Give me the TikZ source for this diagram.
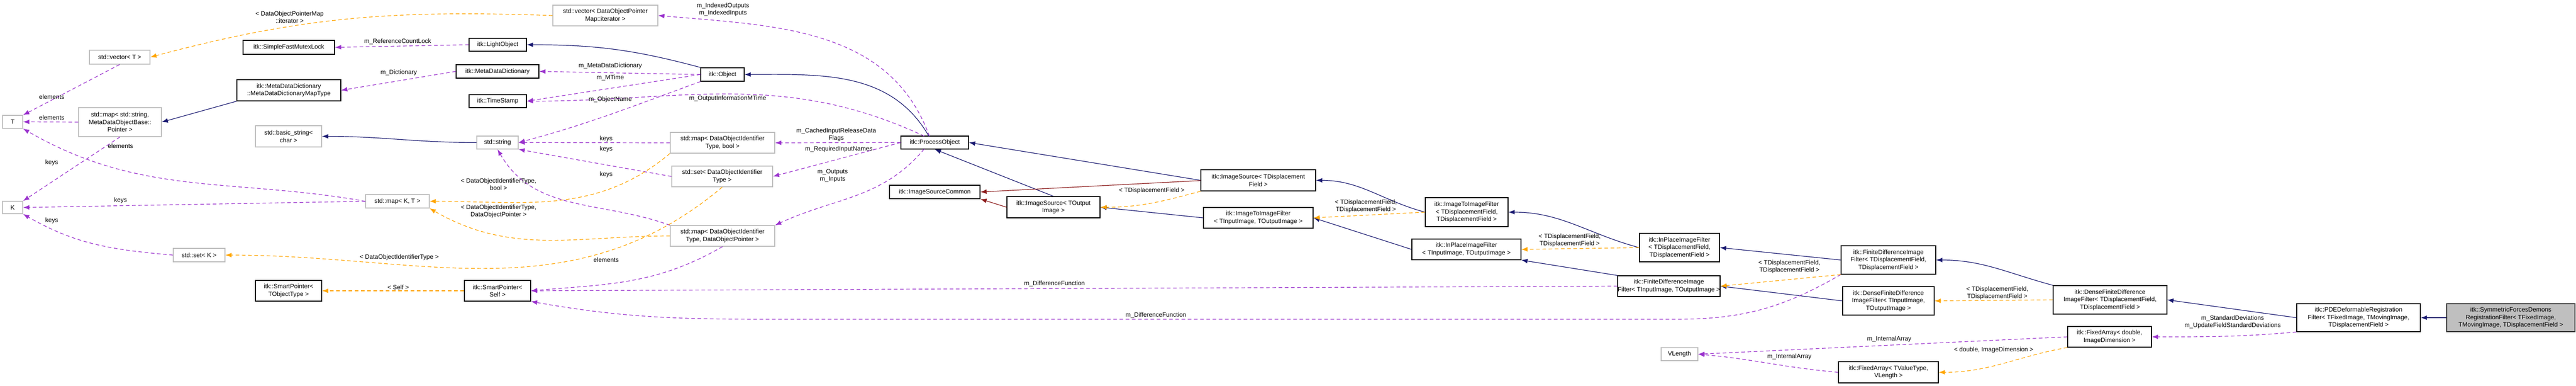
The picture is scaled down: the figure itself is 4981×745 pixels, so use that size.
\documentclass[tikz,border=0pt]{standalone}
\usepackage{fontspec}
\setmainfont{Liberation Sans}
\usetikzlibrary{arrows.meta}
\definecolor{inhc}{HTML}{191970}
\definecolor{usec}{HTML}{9A32CD}
\definecolor{tplc}{HTML}{FFA500}
\definecolor{redc}{HTML}{8B1A1A}
\definecolor{grayb}{HTML}{BFBFBF}
\newcommand\mybox[7]{\node[#1, minimum width={(#5-#3)*1pt}, minimum height={(#6-#4)*1pt}] (#2) at ({(#3+#5)/2},{(#4+#6)/2}) {#7};}
\begin{document}
\begin{tikzpicture}[x=1pt,y=-1pt,
  base/.style={draw, rectangle, inner sep=0pt, align=center, font=\fontsize{12}{14.5}\selectfont, line width=1.3pt},
  itk/.style={base, draw=black},
  ext/.style={base, draw=grayb},
  me/.style={base, draw=black!80, fill=grayb},
  tip/.style={-{Latex[length=12pt,width=9pt]}},
  inh/.style={tip, draw=inhc, line width=1.2pt},
  red/.style={tip, draw=redc, line width=1.2pt},
  use/.style={tip, draw=usec, line width=1.2pt, dash pattern=on 7pt off 5pt},
  tpl/.style={tip, draw=tplc, line width=1.2pt, dash pattern=on 7pt off 5pt},
  lbl/.style={align=center, inner sep=0pt, font=\fontsize{12}{14}\selectfont}]
\useasboundingbox (0,0) rectangle (4981,745);
% nodes
\mybox{ext}{vecT}{173}{97}{290}{124}{std::vector< T >}
\mybox{itk}{mutex}{470}{78}{647}{105}{itk::SimpleFastMutexLock}
\mybox{itk}{mddmt}{458}{154}{659}{195}{itk::MetaDataDictionary\\::MetaDataDictionaryMapType}
\mybox{ext}{T}{5}{223}{44}{248}{T}
\mybox{ext}{mapsm}{152}{208}{312}{264}{std::map< std::string,\\ MetaDataObjectBase::\\Pointer >}
\mybox{ext}{bstr}{494}{243}{622}{284}{std::basic\_string<\\ char >}
\mybox{ext}{K}{5}{389}{44}{413}{K}
\mybox{ext}{mapKT}{707}{376}{830}{402}{std::map< K, T >}
\mybox{ext}{setK}{335}{480}{435}{506}{std::set< K >}
\mybox{itk}{spT}{494}{542}{622}{582}{itk::SmartPointer<\\ TObjectType >}
\mybox{ext}{vecDO}{1069}{10}{1272}{50}{std::vector< DataObjectPointer\\Map::iterator >}
\mybox{itk}{light}{907}{74}{1018}{99}{itk::LightObject}
\mybox{itk}{mdd}{882}{125}{1042}{151}{itk::MetaDataDictionary}
\mybox{itk}{obj}{1355}{131}{1439}{157}{itk::Object}
\mybox{itk}{ts}{907}{183}{1018}{208}{itk::TimeStamp}
\mybox{ext}{str}{922}{263}{1002}{288}{std::string}
\mybox{ext}{mapb}{1296}{256}{1498}{296}{std::map< DataObjectIdentifier\\Type, bool >}
\mybox{ext}{setdo}{1299}{321}{1494}{361}{std::set< DataObjectIdentifier\\Type >}
\mybox{ext}{mapdo}{1296}{436}{1498}{476}{std::map< DataObjectIdentifier\\Type, DataObjectPointer >}
\mybox{itk}{spS}{898}{542}{1026}{582}{itk::SmartPointer<\\ Self >}
\mybox{itk}{po}{1742}{263}{1873}{288}{itk::ProcessObject}
\mybox{itk}{isc}{1720}{358}{1895}{384}{itk::ImageSourceCommon}
\mybox{itk}{isO}{1947}{380}{2127}{421}{itk::ImageSource< TOutput\\Image >}
\mybox{itk}{isD}{2322}{328}{2544}{369}{itk::ImageSource< TDisplacement\\Field >}
\mybox{itk}{iiO}{2327}{401}{2539}{441}{itk::ImageToImageFilter\\< TInputImage, TOutputImage >}
\mybox{itk}{iiD}{2756}{382}{2916}{438}{itk::ImageToImageFilter\\< TDisplacementField,\\ TDisplacementField >}
\mybox{itk}{ipO}{2730}{462}{2941}{502}{itk::InPlaceImageFilter\\< TInputImage, TOutputImage >}
\mybox{itk}{ipD}{3170}{451}{3325}{506}{itk::InPlaceImageFilter\\< TDisplacementField,\\ TDisplacementField >}
\mybox{itk}{fdO}{3129}{533}{3325}{573}{itk::FiniteDifferenceImage\\Filter< TInputImage, TOutputImage >}
\mybox{ext}{vl}{3212}{672}{3283}{697}{VLength}
\mybox{itk}{fdD}{3560}{475}{3743}{530}{itk::FiniteDifferenceImage\\Filter< TDisplacementField,\\ TDisplacementField >}
\mybox{itk}{dfO}{3563}{554}{3740}{609}{itk::DenseFiniteDifference\\ImageFilter< TInputImage,\\ TOutputImage >}
\mybox{itk}{dfD}{3970}{552}{4190}{607}{itk::DenseFiniteDifference\\ImageFilter< TDisplacementField,\\ TDisplacementField >}
\mybox{itk}{faD}{3998}{631}{4160}{671}{itk::FixedArray< double,\\ ImageDimension >}
\mybox{itk}{faV}{3555}{699}{3748}{740}{itk::FixedArray< TValueType,\\ VLength >}
\mybox{itk}{pde}{4441}{587}{4680}{641}{itk::PDEDeformableRegistration\\Filter< TFixedImage, TMovingImage,\\ TDisplacementField >}
\mybox{me}{sym}{4731}{587}{4979}{641}{itk::SymmetricForcesDemons\\RegistrationFilter< TFixedImage,\\ TMovingImage, TDisplacementField >}
% inheritance
\draw[inh] (mddmt.south west) -- (mapsm.east);
\draw[inh] (str.west) to[out=180,in=0] (bstr.east);
\draw[inh] (obj.north west) to[out=165,in=0] (light.east);
\draw[inh] (1796,263) to[out=120,in=0] (obj.east);
\draw[inh] (isD.west) -- (po.east);
\draw[inh] (isO.north) -- (po.south);
\draw[inh] (iiO.west) -- (isO.east);
\draw[inh] (iiD.west) to[out=165,in=0] (isD.east);
\draw[inh] (ipO.west) -- (iiO.east);
\draw[inh] (ipD.west) to[out=165,in=0] (iiD.east);
\draw[inh] (fdO.north west) -- (ipO.south east);
\draw[inh] (fdD.west) -- (ipD.east);
\draw[inh] (dfO.west) -- (fdO.east);
\draw[inh] (dfD.north west) to[out=165,in=0] (fdD.east);
\draw[inh] (pde.west) -- (dfD.east);
\draw[inh] (sym.west) -- (pde.east);
\draw[red] (isD.west |- 2322,349) -- (isc.east);
\draw[red] (isO.west) -- (isc.south east);
% usage
\draw[use] (vecT.south) -- (T.north east);
\draw[use] (mapsm.west) -- (T.east);
\draw[use] (mapKT.west) to[out=170,in=-30] (T.south east);
\draw[use] (mapsm.south) -- (K.north east);
\draw[use] (mapKT.west) -- (K.east);
\draw[use] (setK.west) to[out=175,in=-30] (K.south east);
\draw[use] (light.west) -- (mutex.east);
\draw[use] (obj.west) -- (mdd.east);
\draw[use] (mdd.west) -- (mddmt.east);
\draw[use] (obj.west) -- (ts.east);
\draw[use] (obj.south west) to[out=200,in=15] (str.east);
\draw[use] (1787,263) to[out=155,in=0] (ts.east);
\draw[use] (1797,263) to[out=110,in=-5] (vecDO.east);
\draw[use] (po.west) -- (mapb.east);
\draw[use] (po.west) -- (setdo.east);
\draw[use] (1787,288) to[out=-130,in=25] (mapdo.north east);
\draw[use] (mapb.west) -- (str.east);
\draw[use] (setdo.west) -- (str.south east);
\draw[use] (mapdo.north west) to[out=160,in=-60] (str.south);
\draw[use] (mapdo.south) to[out=-150,in=5] (spS.east);
\draw[use] (fdO.west) -- (spS.east);
\draw[use] (fdD.south west) to[out=-150,in=0] (3240,617) -- (1500,617) to[out=180,in=-10] (spS.south east);
\draw[use] (faD.west) -- (vl.east);
\draw[use] (faV.west) to[out=175,in=-5] (vl.east);
\draw[use] (pde.south west) to[out=-175,in=0] (faD.east);
% templates
\draw[tpl] (vecDO.west) to[out=178,in=15] (vecT.east);
\draw[tpl] (mapb.south west) to[out=-140,in=0] (mapKT.east);
\draw[tpl] (mapdo.west) to[out=180,in=-30] (mapKT.south east);
\draw[tpl] (setdo.south) to[out=-140,in=0] (setK.east);
\draw[tpl] (spS.west) -- (spT.east);
\draw[tpl] (isD.south west) to[out=-165,in=0] (isO.east);
\draw[tpl] (iiD.west) -- (iiO.east);
\draw[tpl] (ipD.west) -- (ipO.east);
\draw[tpl] (fdD.south west) -- (fdO.east);
\draw[tpl] (dfD.west) -- (dfO.east);
\draw[tpl] (faD.south west) to[out=-170,in=0] (faV.east);
% labels
\node[lbl] (l1) at (100,187) {elements};
\node[lbl] (l2) at (100,227) {elements};
\node[lbl] (l3) at (233,282) {elements};
\node[lbl] (l4) at (100,314) {keys};
\node[lbl] (l5) at (233,387) {keys};
\node[lbl] (l6) at (100,426) {keys};
\node[lbl] (l7) at (769,80) {m\_ReferenceCountLock};
\node[lbl] (l8) at (771,140) {m\_Dictionary};
\node[lbl] (l9) at (560,33) {< DataObjectPointerMap\\::iterator >};
\node[lbl] (l10) at (1180,127) {m\_MetaDataDictionary};
\node[lbl] (l11) at (1180,150) {m\_MTime};
\node[lbl] (l12) at (1180,192) {m\_ObjectName};
\node[lbl] (l13) at (1407,190) {m\_OutputInformationMTime};
\node[lbl] (l14) at (1398,18) {m\_IndexedOutputs\\m\_IndexedInputs};
\node[lbl] (l15) at (1617,260) {m\_CachedInputReleaseData\\Flags};
\node[lbl] (l16) at (1622,288) {m\_RequiredInputNames};
\node[lbl] (l17) at (1610,340) {m\_Outputs\\m\_Inputs};
\node[lbl] (l18) at (1172,268) {keys};
\node[lbl] (l19) at (1172,288) {keys};
\node[lbl] (l20) at (1172,337) {keys};
\node[lbl] (l21) at (1172,502) {elements};
\node[lbl] (l22) at (964,356) {< DataObjectIdentifierType,\\bool >};
\node[lbl] (l23) at (964,408) {< DataObjectIdentifierType,\\DataObjectPointer >};
\node[lbl] (l24) at (772,497) {< DataObjectIdentifierType >};
\node[lbl] (l25) at (770,555) {< Self >};
\node[lbl] (l26) at (2039,548) {m\_DifferenceFunction};
\node[lbl] (l27) at (2235,609) {m\_DifferenceFunction};
\node[lbl] (l28) at (2227,368) {< TDisplacementField >};
\node[lbl] (l29) at (2641,398) {< TDisplacementField,\\TDisplacementField >};
\node[lbl] (l30) at (3035,464) {< TDisplacementField,\\TDisplacementField >};
\node[lbl] (l31) at (3460,515) {< TDisplacementField,\\TDisplacementField >};
\node[lbl] (l32) at (3862,566) {< TDisplacementField,\\TDisplacementField >};
\node[lbl] (l33) at (3653,655) {m\_InternalArray};
\node[lbl] (l34) at (3460,689) {m\_InternalArray};
\node[lbl] (l35) at (3855,676) {< double, ImageDimension >};
\node[lbl] (l36) at (4317,622) {m\_StandardDeviations\\m\_UpdateFieldStandardDeviations};
\end{tikzpicture}
\end{document}
